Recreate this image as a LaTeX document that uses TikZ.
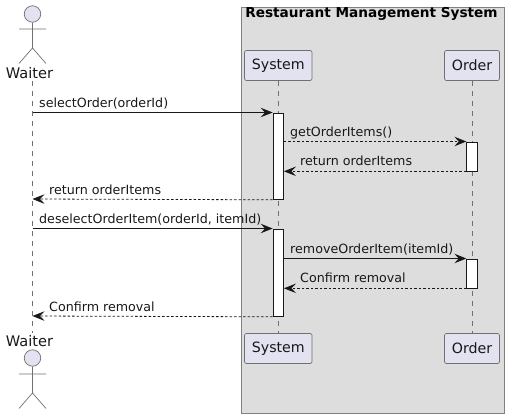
\documentclass[tikz,border=0pt]{standalone}
\usepackage{fontspec}
\setmainfont{DejaVu Sans}
\usetikzlibrary{arrows.meta}
\definecolor{partfill}{HTML}{E2E2F0}
\definecolor{partline}{HTML}{707070}
\definecolor{boxfill}{HTML}{DDDDDD}
\definecolor{boxline}{HTML}{808080}
\definecolor{ink}{HTML}{181818}
\tikzset{
  partbox/.style={draw=partline,fill=partfill,rounded corners=2pt,line width=.7pt,minimum height=30pt,inner sep=0pt,font=\fontsize{14.2}{16}\selectfont,text=ink},
  actorlabel/.style={inner sep=0pt,font=\fontsize{14.6}{16}\selectfont,text=ink},
  actorline/.style={draw=partline,line width=.7pt},
  lifeline/.style={draw=partline,line width=.6pt,dash pattern=on 5pt off 5pt},
  actbar/.style={draw=ink,fill=white,line width=.8pt,minimum width=10.5pt,inner sep=0pt},
  msg/.style={draw=ink,line width=.8pt,-{Stealth[length=12pt,width=9.5pt,inset=4.5pt,fill=ink]}},
  ret/.style={msg,dash pattern=on 2.5pt off 2pt},
  msglabel/.style={inner sep=0pt,anchor=base west,font=\fontsize{12.66}{15}\selectfont,text=ink},
}
\begin{document}
\begin{tikzpicture}[x=1pt,y=-1pt]
\useasboundingbox (0,0) rectangle (508,418);
\node[draw=boxline,fill=boxfill,line width=.9pt,minimum width=263pt,minimum height=406.5pt,inner sep=0pt,anchor=north west] (sysbox) at (240.5,6.5) {};
\node[inner sep=0pt,font=\fontsize{13.65}{15}\selectfont\bfseries,text=black] (systitle) at (371.5,14) {Restaurant Management System};
% participants
\node[partbox,minimum width=67.5pt] (systop) at (278.3,65.5) {System};
\node[partbox,minimum width=55pt] (ordtop) at (472,65.5) {Order};
\node[partbox,minimum width=67.5pt] (sysbot) at (278.3,348.5) {System};
\node[partbox,minimum width=55pt] (ordbot) at (472,348.5) {Order};
% actors
\node[actorlabel] (waitertop) at (29.5,73) {Waiter};
\node[actorlabel] (waiterbot) at (29.5,341) {Waiter};
\coordinate (wl1) at (32.5,81);
\coordinate (wl2) at (32.5,333);
% lifelines
\draw[lifeline] (wl1) -- (wl2);
\draw[lifeline] (systop.south) -- (sysbot.north);
\draw[lifeline] (ordtop.south) -- (ordbot.north);
% actor top
\node[draw=partline,fill=partfill,circle,line width=.7pt,minimum size=16.5pt,inner sep=0pt] (headtop) at (32.5,14) {};
\draw[actorline] (headtop.south) -- (32.5,48) (19,29) -- (46,29) (19,63.5) -- (32.5,48) -- (46,63.5);
% actor bottom
\node[draw=partline,fill=partfill,circle,line width=.7pt,minimum size=16.5pt,inner sep=0pt] (headbot) at (32.5,358) {};
\draw[actorline] (headbot.south) -- (32.5,393) (19,374) -- (46,374) (19,408.5) -- (32.5,393) -- (46,408.5);
% activation bars
\node[actbar,minimum height=86.5pt,anchor=north] (sa1) at (278.3,112.5) {};
\node[actbar,minimum height=87.5pt,anchor=north] (sa2) at (278.3,228.5) {};
\node[actbar,minimum height=29pt,anchor=north] (oa1) at (472,141.5) {};
\node[actbar,minimum height=29pt,anchor=north] (oa2) at (472,258.5) {};
% waiter anchor points
\coordinate (w1) at (32.5,112.5);
\coordinate (w2) at (32.5,199);
\coordinate (w3) at (32.5,228.5);
\coordinate (w4) at (32.5,316);
% messages
\draw[msg] (w1) -- (sa1.north west);
\draw[ret] (sa1.east |- oa1.north) -- (oa1.north west);
\draw[ret] (oa1.south west) -- (sa1.east |- oa1.south);
\draw[ret] (sa1.south west) -- (w2);
\draw[msg] (w3) -- (sa2.north west);
\draw[msg] (sa2.east |- oa2.north) -- (oa2.north west);
\draw[ret] (oa2.south west) -- (sa2.east |- oa2.south);
\draw[ret] (sa2.south west) -- (w4);
% labels
\node[msglabel] (m1) at (39,107) {selectOrder(orderId)};
\node[msglabel] (m2) at (290,136) {getOrderItems()};
\node[msglabel] (m3) at (300,165.5) {return orderItems};
\node[msglabel] (m4) at (49,194) {return orderItems};
\node[msglabel] (m5) at (39,223.5) {deselectOrderItem(orderId, itemId)};
\node[msglabel] (m6) at (290,253) {removeOrderItem(itemId)};
\node[msglabel] (m7) at (300,282) {Confirm removal};
\node[msglabel] (m8) at (49,311) {Confirm removal};
\end{tikzpicture}
\end{document}
